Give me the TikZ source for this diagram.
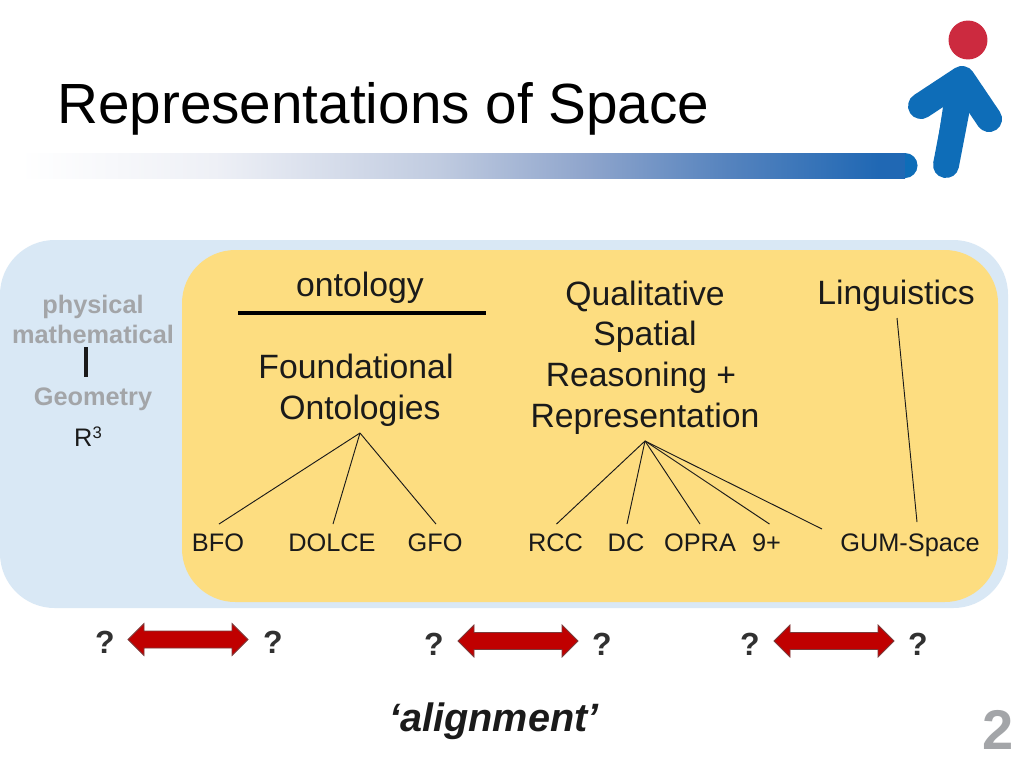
\documentclass[tikz,border=0pt]{standalone}
\usepackage{fontspec}
\setmainfont{Liberation Sans}
\usetikzlibrary{calc}
\definecolor{barA}{HTML}{EEF0F6}
\definecolor{barB}{HTML}{C0CBE0}
\definecolor{barC}{HTML}{8FA5CC}
\definecolor{barD}{HTML}{5583BE}
\definecolor{barend}{HTML}{2068B4}
\pgfdeclarehorizontalshading{barshade}{100bp}{color(0bp)=(white);color(25bp)=(white);color(36bp)=(barA);color(48.7bp)=(barB);color(57bp)=(barC);color(65bp)=(barD);color(73.5bp)=(barend);color(100bp)=(barend)}
\definecolor{paleblue}{HTML}{D9E8F5}
\definecolor{paleyellow}{HTML}{FDDD80}
\definecolor{logoblue}{HTML}{0E6DB8}
\definecolor{logored}{HTML}{CC2A3F}
\definecolor{greytext}{HTML}{A3A5A8}
\definecolor{arrowred}{HTML}{C00000}
\definecolor{arrowedge}{HTML}{7A3B3B}
\definecolor{ink}{HTML}{1A1A1A}
\newcommand{\fsz}[1]{\fontsize{#1}{#1}\selectfont}
\newcommand{\redarrow}[2]{\path[arrowshape,shift={(#1,#2)}]
  (-60,0) -- (-44,-16) -- (-44,-8.5) -- (44,-8.5) -- (44,-16) -- (60,0) -- (44,16) -- (44,8.5) -- (-44,8.5) -- (-44,16) -- cycle;}
\tikzset{
  x=0.75pt,y=-0.75pt,
  txt/.style={inner sep=0pt,outer sep=0pt,align=center,text=ink,font=\fsz{25.3}},
  small/.style={inner sep=0pt,outer sep=0pt,text=ink,font=\fsz{19}},
  greylab/.style={inner sep=0pt,outer sep=0pt,text=greytext,font=\fsz{19}\bfseries},
  qmark/.style={inner sep=0pt,outer sep=0pt,text=ink!90,font=\fsz{24}\bfseries},
  thin line/.style={draw=ink,line width=0.7pt},
  arrowshape/.style={fill=arrowred,draw=arrowedge,line width=0.6pt,line join=miter},
  limb/.style={draw=logoblue,line width=19.5pt,line cap=round,line join=round}
}
\begin{document}
\begin{tikzpicture}
\useasboundingbox (0,0) rectangle (1024,768);
\fill[white] (0,0) rectangle (1024,768);
% title and bar
\node[inner sep=0pt,anchor=base west,font=\fsz{42.5},text=black] (title) at (57,123) {Representations of Space};
\path[shading=barshade] (20,153) -- (905,153) -- (905,178) -- (20,178) -- cycle;
\fill[logoblue] (905,153) arc[start angle=90,end angle=-90,radius=9.4pt] -- cycle;
% logo
\fill[logored] (968,40) circle[radius=14.6pt];
\fill[logoblue] (962,70) -- (943,107) -- (934,166) -- (958,168) -- (968,112) -- (985,115) -- cycle;
\draw[limb] (921,106) -- (962,79) -- (989,119);
\draw[limb] (962,82) -- (946,165);
% panels
\fill[paleblue,rounded corners=41pt] (0,240) rectangle (1008,608);
\fill[paleyellow,rounded corners=40pt] (182,250) rectangle (998,602);
% left column
\node[greylab] (phys) at (93,307) {physical};
\node[greylab] (math) at (93,334) {mathematical};
\node[greylab] (geom) at (93,399) {Geometry};
\node[small,anchor=base] (r3) at (88,446) {R\raisebox{6pt}{\fsz{12.5}3}};
\draw[ink,line width=2.6pt] (86,347) -- (86,377);
% headings
\node[txt] (onto) at (360,288) {ontology};
\coordinate (ruleL) at (238,313);
\coordinate (ruleR) at (486,313);
\draw[black,line width=2.4pt] (ruleL) -- (ruleR);
\node[txt] (found) at (356,390.5) {Foundational\\[5.5pt]\hspace*{6pt}Ontologies};
\node[txt] (qsr) at (645,357.5) {Qualitative\\[5.2pt] Spatial\\[5.2pt] Reasoning +\rule{6pt}{0pt}\\[5.2pt] Representation};
\node[txt] (ling) at (896,295.5) {Linguistics};
% leaves
\node[small] (bfo) at (218,543) {BFO};
\node[small] (dolce) at (332,543) {DOLCE};
\node[small] (gfo) at (435,543) {GFO};
\node[small] (rcc) at (555.5,543) {RCC};
\node[small] (dc) at (626,543) {DC};
\node[small] (opra) at (700,543) {OPRA};
\node[small] (nine) at (766.5,543) {9+};
\node[small] (gum) at (910,545.5) {GUM-Space};
% connectors
\coordinate (ftip) at (360,433);
\coordinate (qtip) at (645,441);
\coordinate (ltip) at (897,318);
\coordinate (gumfree) at (822,529);
\foreach \e/\dx in {bfo/1,dolce/1,gfo/1} \draw[thin line] (ftip) -- ($(\e.north)+(\dx,-10)$);
\foreach \e/\dx in {rcc/1,dc/1,opra/0,nine/3} \draw[thin line] (qtip) -- ($(\e.north)+(\dx,-10)$);
\draw[thin line] (qtip) -- (gumfree);
\draw[thin line] (ltip) -- ($(gum.north)+(7,-12)$);
% question marks and arrows
\node[qmark] (q1) at (105,642) {?};
\node[qmark] (q2) at (273,642) {?};
\node[qmark] (q3) at (434,644) {?};
\node[qmark] (q4) at (602,644) {?};
\node[qmark] (q5) at (750,644) {?};
\node[qmark] (q6) at (918,644) {?};
\redarrow{188}{639.5}
\redarrow{518}{641}
\redarrow{834}{641}
% footer
\node[inner sep=0pt,text=ink,font=\fsz{29.7}\bfseries\itshape] (align) at (494,721) {‘alignment’};
\node[inner sep=0pt,text=greytext,font=\fsz{42}\bfseries] (page) at (998,730) {2};
\end{tikzpicture}
\end{document}
